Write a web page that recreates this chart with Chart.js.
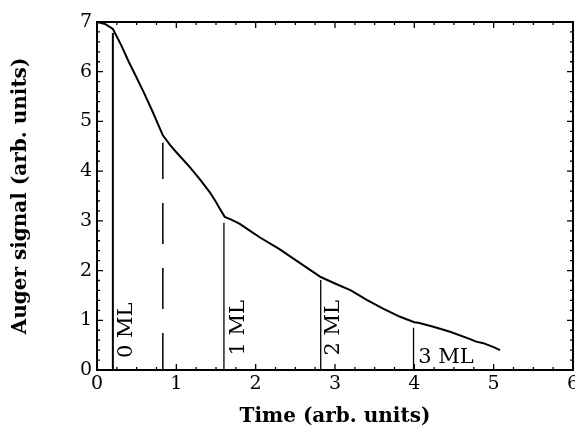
<!DOCTYPE html>
<html>
<head>
<meta charset="utf-8">
<script src="https://cdn.jsdelivr.net/npm/chart.js@4.4.1/dist/chart.umd.min.js"></script>
<style>
  html, body { margin: 0; padding: 0; background: #fff; overflow: hidden; }
  #wrap { width: 575px; height: 432px; }
</style>
</head>
<body>
<div id="wrap"><canvas id="augerChart" width="575" height="432"></canvas></div>
<script>
// Curva de la señal Auger
const tiempo = [0, 0.1, 0.2, 0.3, 0.4, 0.5, 0.6, 0.7, 0.83, 0.92, 1.0, 1.17, 1.3, 1.42, 1.5, 1.55, 1.61, 1.7, 1.8, 1.93, 2.06, 2.3, 2.56, 2.82, 3.0, 3.2, 3.4, 3.6, 3.82, 4.0, 4.05, 4.24, 4.45, 4.67, 4.78, 4.87, 5.0, 5.08];
const senal = [7.0, 6.96, 6.86, 6.55, 6.2, 5.88, 5.55, 5.2, 4.72, 4.53, 4.38, 4.08, 3.83, 3.58, 3.38, 3.24, 3.08, 3.02, 2.94, 2.8, 2.66, 2.43, 2.15, 1.87, 1.74, 1.6, 1.41, 1.24, 1.07, 0.96, 0.95, 0.87, 0.77, 0.64, 0.57, 0.54, 0.46, 0.40];

// Lineas verticales de cada monocapa
const marcaX = [0.2, 0.83, 1.6, 2.82, 3.99];
const marcaTope = [6.78, 4.57, 2.96, 1.81, 0.85];
const marcaDiscontinua = [false, true, false, false, false];
const marcaGrosor = [2, 1.5, 1.3, 1.3, 1.3];

// Etiquetas de monocapas
const etiquetaTexto = ['0 ML', '1 ML', '2 ML', '3 ML'];
const etiquetaX = [0.37, 1.79, 2.98, 4.40];
const etiquetaY = [0.80, 0.85, 0.85, 0.26];
const etiquetaVertical = [true, true, true, false];

// Ejes
const ticksX = [0, 1, 2, 3, 4, 5, 6];
const ticksY = [0, 1, 2, 3, 4, 5, 6, 7];
const pasoMenorX = 0.25;
const pasoMenorY = 0.2;

const FUENTE = '"DejaVu Serif", serif';

// Datasets: curva + lineas verticales
const datasets = [{
    data: tiempo.map((t, i) => ({ x: t, y: senal[i] })),
    borderColor: '#000',
    borderWidth: 2,
    pointRadius: 0,
    tension: 0,
    fill: false
}];
marcaX.forEach((x, i) => {
    datasets.push({
        data: [{ x: x, y: 0 }, { x: x, y: marcaTope[i] }],
        borderColor: '#000',
        borderWidth: marcaGrosor[i],
        borderDash: marcaDiscontinua[i] ? [41, 24] : [],
        borderDashOffset: marcaDiscontinua[i] ? 4 : 0,
        pointRadius: 0,
        fill: false
    });
});

// Marco, marcas hacia dentro y etiquetas
const marcoPlugin = {
    id: 'marco',
    afterDatasetsDraw(chart) {
        const { ctx, chartArea: a, scales } = chart;
        const sx = scales.x, sy = scales.y;
        ctx.save();
        ctx.strokeStyle = '#000';
        ctx.lineWidth = 2;
        ctx.strokeRect(a.left, a.top, a.right - a.left, a.bottom - a.top);

        ctx.lineWidth = 1.3;
        ctx.beginPath();
        for (let v = 0; v <= 6.0001; v += pasoMenorX) {
            const px = sx.getPixelForValue(v);
            const len = Math.abs(v - Math.round(v)) < 1e-6 ? 6 : 3;
            ctx.moveTo(px, a.bottom); ctx.lineTo(px, a.bottom - len);
            ctx.moveTo(px, a.top); ctx.lineTo(px, a.top + len);
        }
        for (let v = 0; v <= 7.0001; v += pasoMenorY) {
            const py = sy.getPixelForValue(v);
            const len = Math.abs(v - Math.round(v)) < 1e-6 ? 6 : 3;
            ctx.moveTo(a.left, py); ctx.lineTo(a.left + len, py);
            ctx.moveTo(a.right, py); ctx.lineTo(a.right - len, py);
        }
        ctx.stroke();

        ctx.fillStyle = '#000';
        ctx.font = '21px ' + FUENTE;
        ctx.textAlign = 'center';
        ctx.textBaseline = 'middle';
        etiquetaTexto.forEach((txt, i) => {
            const px = sx.getPixelForValue(etiquetaX[i]);
            const py = sy.getPixelForValue(etiquetaY[i]);
            ctx.save();
            ctx.translate(px, py);
            if (etiquetaVertical[i]) ctx.rotate(-Math.PI / 2);
            ctx.fillText(txt, 0, 0);
            ctx.restore();
        });
        ctx.restore();
    }
};

new Chart(document.getElementById('augerChart'), {
    type: 'line',
    data: { datasets: datasets },
    options: {
        responsive: false,
        animation: false,
        layout: { padding: { top: 22, right: 2, left: 0, bottom: 0 } },
        plugins: { legend: { display: false }, tooltip: { enabled: false } },
        scales: {
            x: {
                type: 'linear',
                min: 0, max: 6,
                afterBuildTicks: (s) => { s.ticks = ticksX.map(v => ({ value: v })); },
                afterFit: (s) => { s.height = 62; s.paddingLeft = 0; s.paddingRight = 0; },
                grid: { display: false, drawTicks: false },
                border: { display: false },
                ticks: { color: '#000', padding: 3, font: { family: FUENTE, size: 19 }, maxRotation: 0 },
                title: {
                    display: true, text: 'Time (arb. units)', color: '#000',
                    font: { family: FUENTE, size: 20, weight: 'bold' },
                    padding: { top: 0, bottom: 3 }
                }
            },
            y: {
                type: 'linear',
                min: 0, max: 7,
                afterBuildTicks: (s) => { s.ticks = ticksY.map(v => ({ value: v })); },
                afterFit: (s) => { s.width = 97; s.paddingTop = 0; s.paddingBottom = 0; },
                grid: { display: false, drawTicks: false },
                border: { display: false },
                ticks: { color: '#000', padding: 5, font: { family: FUENTE, size: 19 } },
                title: {
                    display: true, text: 'Auger signal (arb. units)', color: '#000',
                    font: { family: FUENTE, size: 20, weight: 'bold' },
                    padding: { top: 9, bottom: 0 }
                }
            }
        }
    },
    plugins: [marcoPlugin]
});
</script>
</body>
</html>
